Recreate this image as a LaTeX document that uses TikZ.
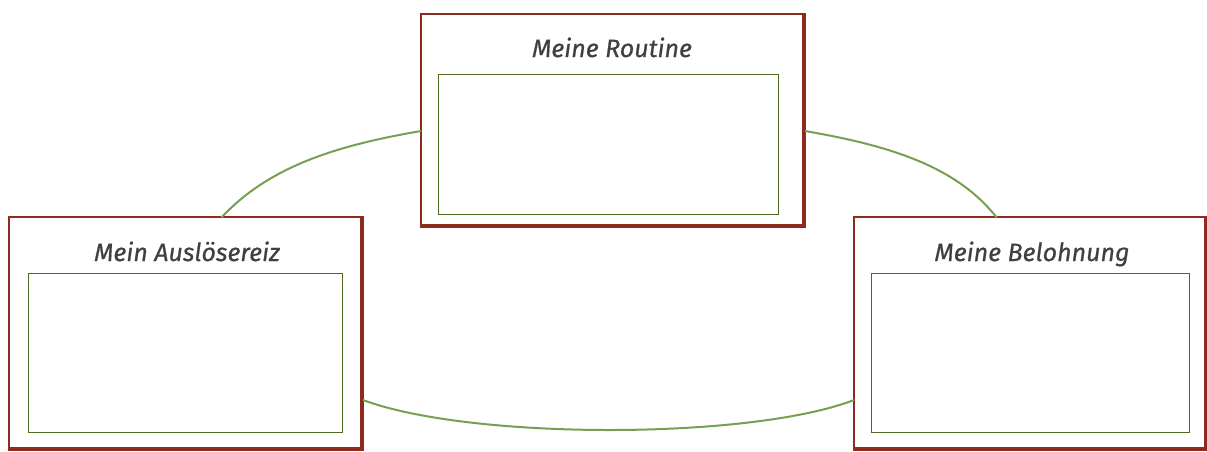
\documentclass[tikz,border=0pt]{standalone}
\usepackage{fontspec}
\setmainfont{Fira Sans}
\newfontfamily\titlefont{Fira Sans}[FakeBold=0.6]
\definecolor{frame}{HTML}{8E2A1E}
\definecolor{link}{HTML}{74A050}
\definecolor{inner}{HTML}{4F6B20}
\definecolor{txt}{HTML}{404040}
\begin{document}
\begin{tikzpicture}[x=1pt,y=-1pt,
  innerbox/.style={draw=inner, line width=1pt, fill=white, inner sep=0pt},
  titletext/.style={text=txt, font=\titlefont\fontsize{25}{28}\selectfont\itshape, inner sep=0pt, anchor=base},
  connector/.style={draw=link, line width=2pt},
  frameline/.style={draw=frame, line width=2.2pt, fill=white},
  shade/.style={draw=frame, line width=2.4pt}
]
\useasboundingbox (0,0) rectangle (1207,451);
\coordinate (tl1) at (221,218);
\coordinate (tl2) at (421,131);
\coordinate (tr1) at (805,131);
\coordinate (tr2) at (997,218);
\coordinate (b1) at (363,400);
\coordinate (b2) at (854,400);
% top box
\path[frameline] (421,14) rectangle (805,227);
\draw[shade] (803.5,15) -- (803.5,225.5) -- (422,225.5);
\node[innerbox, minimum width=340pt, minimum height=140pt, anchor=north west] (rin) at (437.5,73.5) {};
\node[titletext] (rt) at (612,57) {Meine Routine};
% left box
\path[frameline] (9,217) rectangle (363,450);
\draw[shade] (361.5,218) -- (361.5,448.5) -- (10,448.5);
\node[innerbox, minimum width=314pt, minimum height=159pt, anchor=north west] (ain) at (28,273) {};
\node[titletext] (at) at (187,261) {Mein Auslösereiz};
% right box
\path[frameline] (854,217) rectangle (1207,450);
\draw[shade] (1205.5,218) -- (1205.5,448.5) -- (855,448.5);
\node[innerbox, minimum width=318pt, minimum height=159pt, anchor=north west] (bin) at (871,273) {};
\node[titletext] (bt) at (1032,261) {Meine Belohnung};
% connectors
\draw[connector] (tl1) .. controls (270,165) and (340,145) .. (tl2);
\draw[connector] (tr1) .. controls (886,145) and (956,165) .. (tr2);
\draw[connector] (b1) .. controls (470,440) and (750,440) .. (b2);
\end{tikzpicture}
\end{document}
